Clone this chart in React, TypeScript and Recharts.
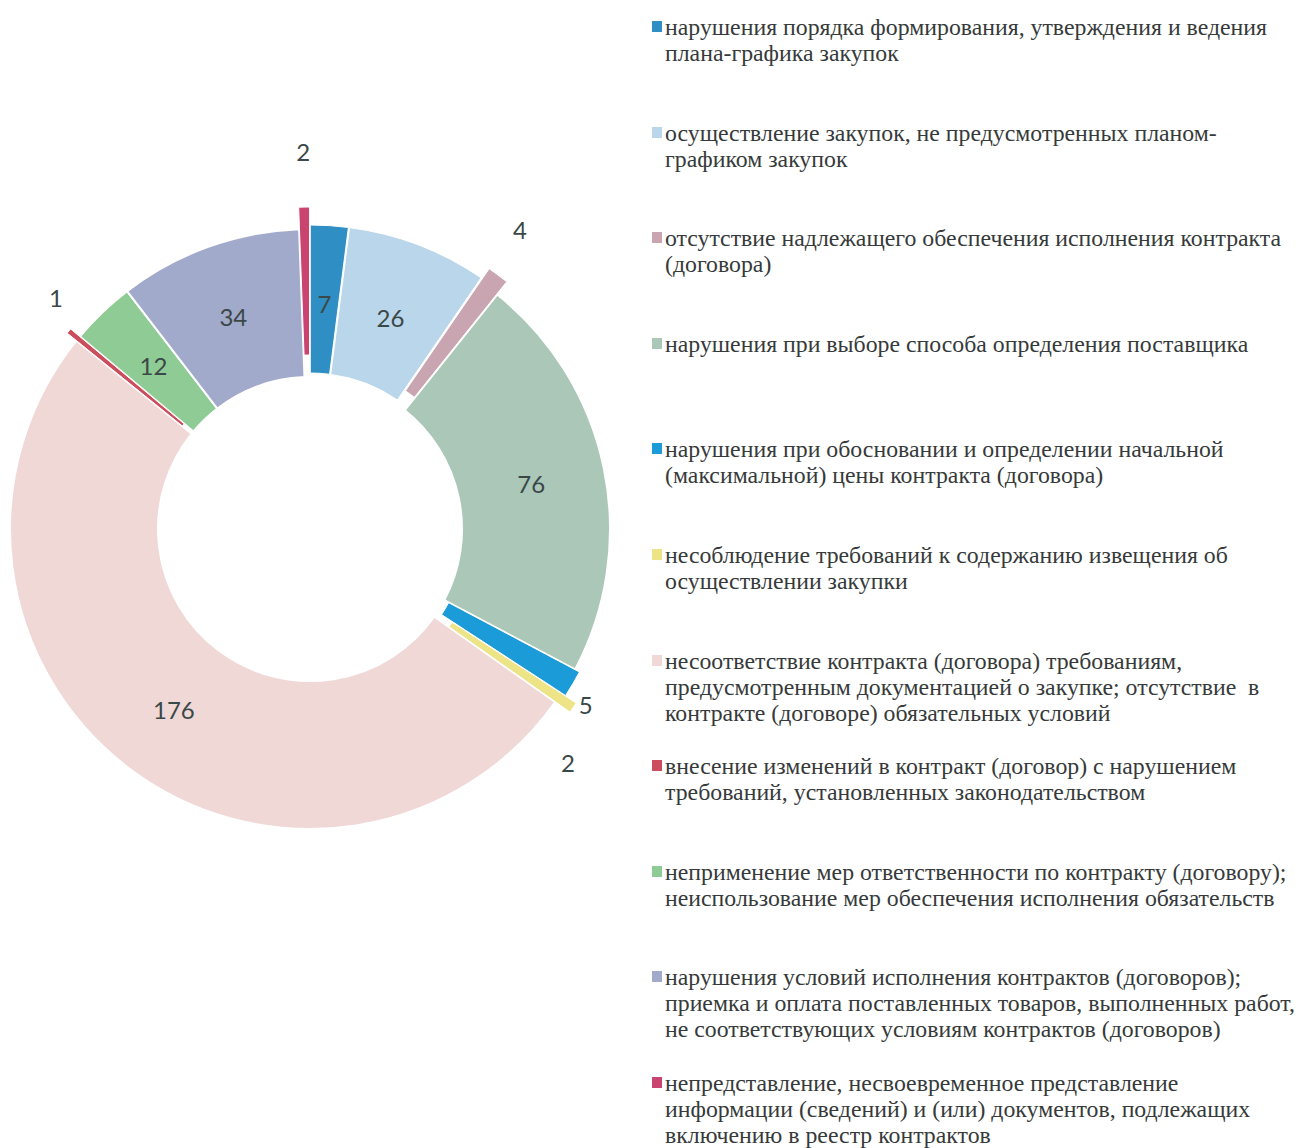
import React from 'react';
import { PieChart, Pie, Cell, Legend, Sector } from 'recharts';

const categories: string[] = [
  'нарушения порядка формирования, утверждения и ведения\nплана-графика закупок',
  'осуществление закупок, не предусмотренных планом-\nграфиком закупок',
  'отсутствие надлежащего обеспечения исполнения контракта\n(договора)',
  'нарушения при выборе способа определения поставщика',
  'нарушения при обосновании и определении начальной\n(максимальной) цены контракта (договора)',
  'несоблюдение требований к содержанию извещения об\nосуществлении закупки',
  'несоответствие контракта (договора) требованиям,\nпредусмотренным документацией о закупке; отсутствие  в\nконтракте (договоре) обязательных условий',
  'внесение изменений в контракт (договор) с нарушением\nтребований, установленных законодательством',
  'неприменение мер ответственности по контракту (договору);\nнеиспользование мер обеспечения исполнения обязательств',
  'нарушения условий исполнения контрактов (договоров);\nприемка и оплата поставленных товаров, выполненных работ,\nне соответствующих условиям контрактов (договоров)',
  'непредставление, несвоевременное представление\nинформации (сведений) и (или) документов, подлежащих\nвключению в реестр контрактов',
];

const values: number[] = [7, 26, 4, 76, 5, 2, 176, 1, 12, 34, 2];

const colors: string[] = [
  '#2f8fc4', '#b9d6ea', '#c9a5b1', '#aac7b8', '#1b9bd7', '#ece487',
  '#f0d8d7', '#cc4e5c', '#8fcb95', '#a2aacb', '#c9446e',
];

// slice explosion (px) and label placement style
const explode: number[] = [4, 4, 16, 0, 5, 18, 0, 12, 0, 0, 22];
const labelGap: number[] = [0, 0, 50, 0, 22, 30, 0, 32, 0, 0, 56];
const labelTurn: number[] = [0, 0, 1.5, 0, -2, -8, 0, -3, 0, 0, 0];

const data = categories.map((name, i) => ({ name, value: values[i] }));

const RAD = Math.PI / 180;

function renderLabel(props: any) {
  const { cx, cy, midAngle, innerRadius, outerRadius, startAngle, endAngle, index, value } = props;
  const e = explode[index];
  const c = Math.cos(-midAngle * RAD);
  const s = Math.sin(-midAngle * RAD);
  const ox = cx + e * c;
  const oy = cy + e * s;
  const outside = labelGap[index] > 0;
  const r = outside ? outerRadius + e + labelGap[index] : (innerRadius + outerRadius) / 2;
  const a = (midAngle + labelTurn[index]) * RAD;
  const lx = cx + r * Math.cos(-a);
  const ly = cy + r * Math.sin(-a);
  return (
    <g key={`lbl-${index}`}>
      {e > 0 && (
        <Sector
          cx={ox}
          cy={oy}
          innerRadius={innerRadius}
          outerRadius={outerRadius}
          startAngle={startAngle}
          endAngle={endAngle}
          fill={colors[index]}
          stroke="#ffffff"
          strokeWidth={1}
        />
      )}
      <text
        x={lx}
        y={ly}
        textAnchor="middle"
        dominantBaseline="central"
        fill="#3b4848"
        fontSize={24}
        fontFamily="Lato, 'Open Sans', sans-serif"
      >
        {value}
      </text>
    </g>
  );
}

function renderLegend() {
  return (
    <div
      style={{
        fontFamily: '"Liberation Serif", "Times New Roman", serif',
        fontSize: 23.8,
        color: '#363a3a',
        lineHeight: '26px',
      }}
    >
      {categories.map((c, i) => (
        <div key={i} style={{ position: 'relative', height: 105.6, paddingLeft: 17, whiteSpace: 'pre' }}>
          <span
            style={{
              position: 'absolute',
              left: 4,
              top: 7,
              width: 10,
              height: 11,
              background: colors[i],
            }}
          />
          {c}
        </div>
      ))}
    </div>
  );
}

export default function App() {
  return (
    <PieChart width={1293} height={1140} margin={{ top: 0, right: 0, bottom: 0, left: 0 }}>
      <Pie
        data={data}
        dataKey="value"
        nameKey="name"
        cx={302}
        cy={521}
        innerRadius={152}
        outerRadius={300}
        startAngle={90}
        endAngle={-270}
        stroke="#ffffff"
        strokeWidth={2}
        label={renderLabel}
        labelLine={false}
        isAnimationActive={false}
      >
        {data.map((d, i) => (
          <Cell
            key={i}
            fill={explode[i] > 0 ? 'transparent' : colors[i]}
            stroke={explode[i] > 0 ? 'none' : '#ffffff'}
          />
        ))}
      </Pie>
      <Legend
        layout="vertical"
        align="right"
        verticalAlign="top"
        content={renderLegend}
        wrapperStyle={{ left: 640, top: 6, width: 653 }}
      />
    </PieChart>
  );
}
